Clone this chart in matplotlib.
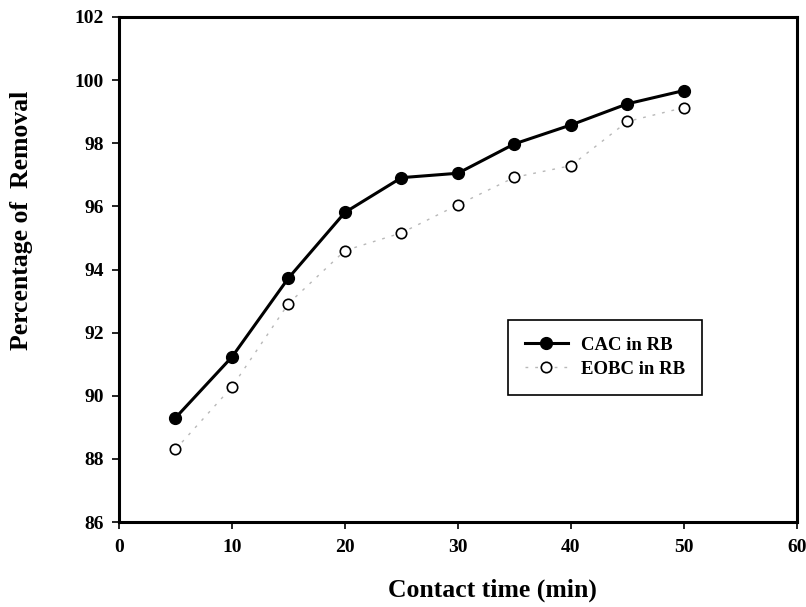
import matplotlib
matplotlib.use("Agg")
import matplotlib.pyplot as plt

time_min = [5, 10, 15, 20, 25, 30, 35, 40, 45, 50]
cac_rb = [89.3, 91.23, 93.73, 95.81, 96.91, 97.05, 97.98, 98.58, 99.25, 99.67]
eobc_rb = [88.3, 90.28, 92.92, 94.6, 95.16, 96.05, 96.92, 97.29, 98.69, 99.13]
x_ticks = [0, 10, 20, 30, 40, 50, 60]
y_ticks = [86, 88, 90, 92, 94, 96, 98, 100, 102]

plt.rcParams['font.family'] = ['Liberation Serif', 'DejaVu Serif']
plt.rcParams['font.weight'] = 'bold'

fig = plt.figure(figsize=(8.06, 6.07), dpi=100)
ax = fig.add_axes([0.1476, 0.140, 0.8412, 0.832])

ax.plot(time_min, cac_rb, color='black', lw=2.2, marker='o', ms=8.5,
        mfc='black', mec='black', label='CAC in RB', zorder=3)
ax.plot(time_min, eobc_rb, color='#b8b8b8', lw=1.0, ls=(0, (2, 5)),
        marker='o', ms=7.5, mfc='white', mec='black', mew=1.2,
        label='EOBC in RB', zorder=2)

ax.set_xlim(0, 60)
ax.set_ylim(86, 102)
ax.set_xticks(x_ticks)
ax.set_yticks(y_ticks)
for s in ax.spines.values():
    s.set_linewidth(2.2)
ax.tick_params(direction='out', length=5, width=1.2, labelsize=14)
ax.tick_params(axis='x', pad=7)
ax.tick_params(axis='y', pad=6)
for lab in ax.get_xticklabels() + ax.get_yticklabels():
    lab.set_fontweight('bold')

fig.text(492 / 806, 1 - 590 / 607, 'Contact time (min)', fontsize=18.5,
         fontweight='bold', ha='center', va='center')
fig.text(22 / 806, 1 - 220 / 607, 'Percentage of  Removal', fontsize=18.5,
         fontweight='bold', ha='center', va='center', rotation=90)

leg = ax.legend(loc='upper left', bbox_to_anchor=(0.5737, 0.4), numpoints=1,
                fancybox=False, edgecolor='black', framealpha=1,
                prop={'family': 'Liberation Serif', 'weight': 'bold', 'size': 13.5},
                handlelength=2.3, handletextpad=0.7, borderpad=0.9,
                labelspacing=0.35, borderaxespad=0)
leg.get_frame().set_linewidth(1.2)

fig.savefig('out.png', dpi=100)
